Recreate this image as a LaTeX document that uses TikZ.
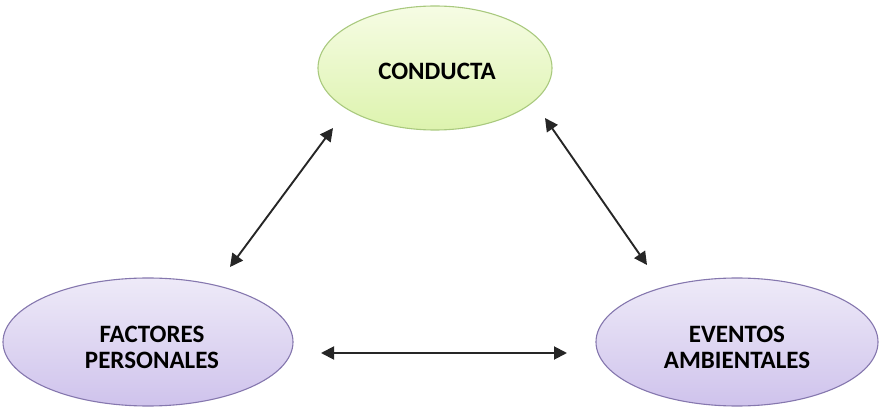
\documentclass[tikz,border=0pt]{standalone}
\usepackage{fontspec}
\setmainfont{Carlito}
\usetikzlibrary{arrows.meta,shapes.geometric}
\definecolor{grtop}{HTML}{F6FCE4}
\definecolor{grbot}{HTML}{DDF3AE}
\definecolor{grline}{HTML}{A9C97E}
\definecolor{lltop}{HTML}{EEEAF8}
\definecolor{llbot}{HTML}{CFC3EC}
\definecolor{llline}{HTML}{8577AE}
\definecolor{arr}{HTML}{262626}
\tikzset{
  ell/.style={ellipse, line width=1.1pt, font=\bfseries\fontsize{25}{26}\selectfont, align=center, inner sep=0pt},
  green/.style={ell, draw=grline, top color=grtop, bottom color=grbot},
  lilac/.style={ell, draw=llline, top color=lltop, bottom color=llbot},
  link/.style={arr, line width=1.9pt, {Triangle[length=13pt,width=13pt]}-{Triangle[length=13pt,width=13pt]}}
}
\begin{document}
\begin{tikzpicture}[x=1pt,y=-1pt]
\useasboundingbox (0,0) rectangle (879,414);
\node[green, minimum width=234pt, minimum height=124pt] (cond) at (435,68) {};
\node[lilac, minimum width=290pt, minimum height=128pt] (fact) at (148,342) {};
\node[lilac, minimum width=282pt, minimum height=128pt] (even) at (737,342) {};
\node[font=\bfseries\fontsize{25}{26}\selectfont, align=center, inner sep=0pt] (tc) at (437,71) {CONDUCTA};
\node[font=\bfseries\fontsize{25}{26}\selectfont, align=center, inner sep=0pt] (tf) at (152,347) {FACTORES\\PERSONALES};
\node[font=\bfseries\fontsize{25}{26}\selectfont, align=center, inner sep=0pt] (te) at (737,347) {EVENTOS\\AMBIENTALES};
\coordinate (c1) at (333,128);
\coordinate (f1) at (230,267);
\coordinate (c2) at (545,118);
\coordinate (e1) at (647,265);
\coordinate (f2) at (321,353);
\coordinate (e2) at (567,353);
\draw[link] (f1) -- (c1);
\draw[link] (c2) -- (e1);
\draw[link] (f2) -- (e2);
\end{tikzpicture}
\end{document}
